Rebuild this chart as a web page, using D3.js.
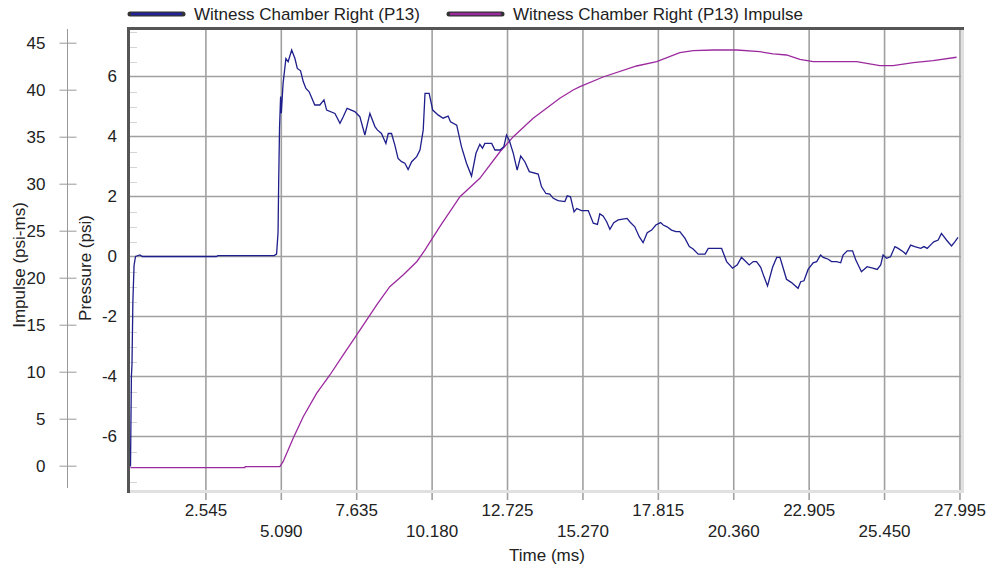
<!DOCTYPE html>
<html lang="en">
  <head>
    <meta charset="UTF-8" />
    <title>Witness Chamber Right (P13)</title>
    <script src="https://d3js.org/d3.v7.min.js"></script>
    <style>
      body { margin: 0; background: #fff; }
      text { font-family: "Liberation Sans", Arial, sans-serif; fill: #222; }
    </style>
  </head>
  <body>
    <svg width="987" height="569"></svg>
    <script>
      // x ticks (ms)
      const timeTicks = [2.545, 5.09, 7.635, 10.18, 12.725, 15.27, 17.815, 20.36, 22.905, 25.45, 27.995];
      const pressureTicks = [-6, -4, -2, 0, 2, 4, 6];
      const impulseTicks = [0, 5, 10, 15, 20, 25, 30, 35, 40, 45];

      // pressure trace
      const pressureTime = [
        0, 0.03, 0.05, 0.08, 0.12, 0.17, 0.32, 0.4, 2.9, 2.95, 4.85, 4.93, 4.98, 5.0, 5.03,
        5.066, 5.09, 5.15, 5.245, 5.32, 5.44, 5.55, 5.63, 5.74, 5.83, 5.92, 6.03, 6.22, 6.39,
        6.53, 6.62, 6.9, 7.07, 7.18, 7.31, 7.57, 7.74, 7.91, 8.08, 8.25, 8.33, 8.47, 8.62,
        8.7, 8.81, 8.92, 9.03, 9.15, 9.26, 9.37, 9.49, 9.66, 9.77, 9.88, 9.94, 10.08, 10.2,
        10.38, 10.55, 10.72, 10.8, 11.01, 11.17, 11.34, 11.51, 11.66, 11.79, 11.88, 11.96,
        12.19, 12.3, 12.47, 12.6, 12.69, 12.78, 12.92, 13.05, 13.17, 13.31, 13.46, 13.76,
        13.87, 14.02, 14.15, 14.27, 14.43, 14.66, 14.74, 14.85, 14.97, 15.06, 15.22, 15.45,
        15.62, 15.76, 15.84, 15.95, 16.07, 16.18, 16.31, 16.46, 16.76, 16.85, 17.02, 17.17,
        17.3, 17.44, 17.59, 17.73, 17.89, 17.98, 18.11, 18.26, 18.41, 18.54, 18.71, 18.86,
        18.99, 19.16, 19.39, 19.5, 19.95, 20.12, 20.32, 20.48, 20.62, 20.74, 20.88, 21.02,
        21.13, 21.27, 21.38, 21.5, 21.67, 21.81, 21.92, 22.03, 22.14, 22.31, 22.53, 22.62,
        22.73, 22.87, 23.04, 23.16, 23.29, 23.38, 23.55, 23.66, 23.83, 23.97, 24.05, 24.19,
        24.37, 24.48, 24.67, 24.86, 25.05, 25.2, 25.32, 25.4, 25.52, 25.65, 25.8, 25.91,
        26.08, 26.17, 26.33, 26.47, 26.67, 26.78, 26.89, 27.04, 27.11, 27.26, 27.37, 27.54,
        27.71, 27.82, 27.93
      ];
      const pressureValue = [
        -7.0, -4.0, -3.6, -1.5, -0.3, 0.0, 0.05, 0.0, 0.0, 0.03, 0.03, 0.08, 0.8, 2.4, 4.3,
        5.33, 4.78, 5.77, 6.6, 6.49, 6.88, 6.6, 6.27, 6.19, 5.83, 5.6, 5.49, 5.05, 5.05,
        5.22, 4.88, 4.77, 4.44, 4.66, 4.94, 4.83, 4.66, 4.05, 4.77, 4.33, 4.22, 4.1, 3.77,
        4.1, 4.1, 3.72, 3.27, 3.16, 3.11, 2.9, 3.16, 3.33, 3.55, 4.22, 5.44, 5.44, 4.88,
        4.72, 4.61, 4.68, 4.49, 4.38, 3.66, 3.11, 2.68, 3.44, 3.74, 3.61, 3.77,
        3.77, 3.55, 3.55, 3.66, 4.05, 3.88, 3.44, 2.88, 3.35, 3.16, 2.83, 2.75,
        2.33, 2.1, 2.08, 1.94, 1.86, 1.83, 2.02, 1.99, 1.49, 1.6, 1.53, 1.53,
        1.11, 1.07, 1.42, 1.35, 1.16, 0.91, 1.13, 1.22, 1.27, 1.16, 0.99, 0.66,
        0.46, 0.79, 0.88, 1.05, 1.13, 1.05, 0.99, 0.88, 0.83, 0.83, 0.61, 0.33,
        0.25, 0.08, 0.08, 0.27, 0.27, -0.17, -0.39, -0.28, -0.03, -0.14, -0.28, -0.17,
        -0.17, -0.36, -0.67, -0.98, -0.36, -0.03, -0.03, -0.39, -0.76, -0.87, -1.06, -0.84,
        -0.81, -0.43, -0.21, -0.17, 0.05, -0.03, -0.09, -0.17, -0.17, -0.21, 0.05, 0.19,
        0.19, -0.12, -0.51, -0.34, -0.39, -0.43, -0.28, 0.05, -0.06, -0.01, 0.33, 0.27,
        0.16, 0.08, 0.38, 0.33, 0.27, 0.33, 0.27, 0.42, 0.49, 0.55, 0.77, 0.55,
        0.35, 0.49, 0.64
      ];

      // impulse trace
      const impulseTime = [
        0, 3.86, 3.87, 5.04, 5.15, 5.49, 5.83, 6.28, 6.73, 7.18, 7.63, 8.08, 8.31, 8.75,
        9.2, 9.66, 9.94, 10.44, 11.12, 11.79, 12.47, 12.92, 13.59, 14.04, 14.49, 14.94,
        15.17, 15.95, 17.08, 17.76, 18.54, 18.99, 19.67, 20.46, 21.24, 21.69, 22.14, 22.59,
        23.04, 24.51, 25.29, 25.74, 26.42, 27.09, 27.88
      ];
      const impulseValue = [
        -0.21, -0.21, -0.1, -0.1, 0.43, 2.91, 5.21, 7.7, 9.65, 11.78, 13.9, 16.03, 17.1, 19.04,
        20.29, 21.7, 22.95, 25.43, 28.62, 30.57, 33.4, 35.0, 36.96, 38.02, 39.09, 39.97,
        40.32, 41.35, 42.52, 42.98, 43.94, 44.15, 44.22, 44.22, 44.04, 43.8, 43.69, 43.23,
        42.98, 42.98, 42.55, 42.55, 42.87, 43.09, 43.45
      ];

      const svg = d3.select("svg");
      const plotLeft = 130, plotRight = 961, plotTop = 30, plotBottom = 490;
      const fontSize = "17px";

      const x = d3.scaleLinear().domain([0, 28.03]).range([130.5, 961]);
      const yP = d3.scaleLinear().domain([-7.783, 7.55]).range([plotBottom, plotTop]);
      const yI = d3.scaleLinear().domain([-2.585, 46.35]).range([plotBottom, plotTop]);

      // minor ticks inside left border
      svg.append("g")
        .selectAll("line")
        .data(d3.range(-7.5, 7.51, 0.5).filter((d) => d % 2 !== 0))
        .enter()
        .append("line")
        .attr("x1", plotLeft).attr("x2", plotLeft + 7)
        .attr("y1", (d) => Math.round(yP(d)) + 0.5)
        .attr("y2", (d) => Math.round(yP(d)) + 0.5)
        .style("stroke", "#d4d4d4");

      // grid
      svg.append("g")
        .selectAll("line")
        .data(timeTicks)
        .enter()
        .append("line")
        .attr("x1", (d) => x(d)).attr("x2", (d) => x(d))
        .attr("y1", plotTop).attr("y2", plotBottom + 10)
        .style("stroke", "#a0a0a0")
        .style("stroke-width", 1.6);
      svg.append("g")
        .selectAll("line")
        .data(pressureTicks)
        .enter()
        .append("line")
        .attr("x1", plotLeft).attr("x2", plotRight)
        .attr("y1", (d) => yP(d)).attr("y2", (d) => yP(d))
        .style("stroke", "#a0a0a0")
        .style("stroke-width", 1.6);

      // x tick labels, two rows
      svg.append("g")
        .selectAll("text")
        .data(timeTicks)
        .enter()
        .append("text")
        .attr("x", (d) => x(d))
        .attr("y", (d, i) => (i % 2 === 0 ? 516 : 537))
        .attr("text-anchor", "middle")
        .style("font-size", fontSize)
        .text((d) => d.toFixed(3));

      // pressure labels
      const pAxis = svg.append("g")
        .attr("transform", `translate(${plotLeft},0)`)
        .call(d3.axisLeft(yP).tickValues(pressureTicks).tickSize(0).tickPadding(13).tickFormat((d) => String(d)));
      pAxis.select(".domain").remove();
      pAxis.selectAll("text").style("font-size", fontSize).attr("fill", "#222");

      // impulse axis
      const iAxis = svg.append("g")
        .attr("transform", "translate(67.5,0)")
        .call(d3.axisLeft(yI).tickValues(impulseTicks).tickSize(8).tickPadding(14));
      iAxis.select(".domain").remove();
      iAxis.selectAll(".tick line").attr("x1", -8).attr("x2", 9).style("stroke", "#999");
      iAxis.selectAll("text").style("font-size", fontSize).attr("fill", "#222");
      svg.append("line")
        .attr("x1", 67.5).attr("x2", 67.5).attr("y1", 29).attr("y2", 488)
        .style("stroke", "#999");

      // plot border
      svg.append("line").attr("x1", plotLeft).attr("x2", plotRight + 2).attr("y1", plotBottom + 1.5).attr("y2", plotBottom + 1.5)
        .style("stroke", "#e0e0e0").style("stroke-width", 3);
      svg.append("line").attr("x1", plotRight + 1.5).attr("x2", plotRight + 1.5).attr("y1", plotTop - 2).attr("y2", plotBottom + 3)
        .style("stroke", "#e0e0e0").style("stroke-width", 3);
      svg.append("line").attr("x1", 127).attr("x2", plotRight + 3).attr("y1", 28.5).attr("y2", 28.5)
        .style("stroke", "#555").style("stroke-width", 3);
      svg.append("line").attr("x1", 128.5).attr("x2", 128.5).attr("y1", 27).attr("y2", plotBottom + 3)
        .style("stroke", "#555").style("stroke-width", 3);

      svg.append("clipPath").attr("id", "clip")
        .append("rect").attr("x", plotLeft).attr("y", plotTop)
        .attr("width", plotRight - plotLeft).attr("height", plotBottom - plotTop);

      const impulseLine = d3.line()
        .x((d, i) => x(impulseTime[i]))
        .y((d) => yI(d));
      svg.append("path")
        .attr("clip-path", "url(#clip)")
        .attr("d", impulseLine(impulseValue))
        .style("fill", "none")
        .style("stroke", "#9c2a9f")
        .style("stroke-width", 1.3);

      const pressureLine = d3.line()
        .x((d, i) => x(pressureTime[i]))
        .y((d) => yP(d));
      svg.append("path")
        .attr("clip-path", "url(#clip)")
        .attr("d", pressureLine(pressureValue))
        .style("fill", "none")
        .style("stroke", "#1e1e8c")
        .style("stroke-width", 1.3);

      // axis titles
      svg.append("text")
        .attr("x", 547).attr("y", 561)
        .attr("text-anchor", "middle")
        .style("font-size", fontSize)
        .text("Time (ms)");
      svg.append("text")
        .attr("transform", "translate(25,265) rotate(-90)")
        .attr("text-anchor", "middle")
        .style("font-size", fontSize)
        .text("Impulse (psi-ms)");
      svg.append("text")
        .attr("transform", "translate(91,268) rotate(-90)")
        .attr("text-anchor", "middle")
        .style("font-size", fontSize)
        .text("Pressure (psi)");

      // legend
      const legendItems = [
        { label: "Witness Chamber Right (P13)", color: "#23239a", x: 130 },
        { label: "Witness Chamber Right (P13) Impulse", color: "#9c2a9f", x: 449 },
      ];
      const legend = svg.append("g")
        .selectAll("g")
        .data(legendItems)
        .enter()
        .append("g")
        .attr("transform", (d) => `translate(${d.x},14)`);
      legend.append("line")
        .attr("x1", 0).attr("x2", 53)
        .style("stroke", "#333")
        .style("stroke-width", 5)
        .style("stroke-linecap", "round");
      legend.append("line")
        .attr("x1", 1).attr("x2", 52)
        .style("stroke", (d) => d.color)
        .style("stroke-width", 2.5);
      legend.append("text")
        .attr("x", 64).attr("y", 6)
        .style("font-size", fontSize)
        .text((d) => d.label);
    </script>
  </body>
</html>
